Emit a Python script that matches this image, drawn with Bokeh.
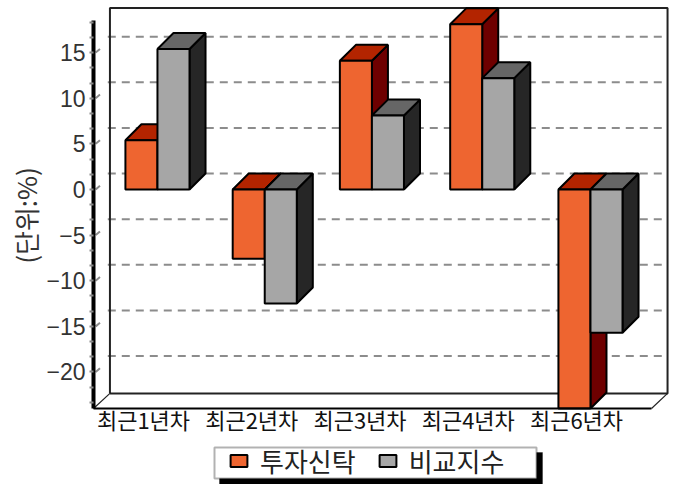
from bokeh.plotting import figure
from bokeh.embed import file_html
from bokeh.resources import INLINE
from bokeh.models import (Range1d, SingleIntervalTicker, FixedTicker, LinearAxis, Legend, LegendItem,
                          BoxAnnotation, Label)

categories = ["최근1년차", "최근2년차", "최근3년차", "최근4년차", "최근6년차"]
series_names = ["투자신탁", "비교지수"]
fund = [5.4, -7.6, 14.1, 18.1, -24.0]
index_vals = [15.4, -12.5, 8.1, 12.2, -15.7]
y_ticks = [-20, -15, -10, -5, 0, 5, 10, 15]
y_label = "(단위:%)"

FRONT = ["#EE6530", "#A6A6A6"]
TOP = ["#B32400", "#666666"]
SIDE = ["#6E0000", "#262626"]

# depth of the pseudo-3D projection, in data units
DX, DY = 0.148, 1.75
BAR_W = 0.296
SHIFT = [0.129, 0.120, 0.110, 0.129, 0.129]
X0, X1 = -0.462, 4.85
Y0, Y1 = -24.0, 19.95
WALL_L, WALL_R = X0 + 0.152, X1 - 0.009
FLOOR_R = WALL_R - DX
WALL_B = Y0 + 1.65

p = figure(width=675, height=484, output_backend="svg", toolbar_location=None,
           x_range=Range1d(-1.321, 4.9145), y_range=Range1d(-32.33, 20.71),
           x_axis_type=None, y_axis_type=None,
           min_border=0,
           background_fill_color="white", border_fill_color="white", outline_line_color=None)
p.grid.visible = False

# Axes
ya = LinearAxis(ticker=SingleIntervalTicker(interval=5, num_minor_ticks=3), bounds=(Y0, 18.5), fixed_location=X0)
ya.axis_line_color = "black"
ya.axis_line_width = 4
ya.major_tick_in = 0
ya.major_tick_out = 0
ya.minor_tick_in = 0
ya.minor_tick_out = 4
ya.minor_tick_line_color = "#8a8a8a"
ya.minor_tick_line_width = 2
ya.major_label_standoff = 4
ya.major_label_text_font = "Liberation Sans"
ya.major_label_text_font_size = "23px"
ya.major_label_text_color = "#333333"
p.add_layout(ya, "left")

xa = LinearAxis(ticker=FixedTicker(ticks=list(range(len(categories)))), bounds=(X0, FLOOR_R), fixed_location=Y0,
                major_label_overrides={i: c for i, c in enumerate(categories)})
xa.axis_line_color = "black"
xa.axis_line_width = 2
xa.major_tick_in = 0
xa.major_tick_out = 0
xa.minor_tick_in = 0
xa.minor_tick_out = 0
xa.major_label_standoff = -5
xa.major_label_text_font = "Noto Sans CJK KR"
xa.major_label_text_font_size = "22px"
xa.major_label_text_color = "#111111"
p.add_layout(xa, "below")

# Back wall gridlines
gy = [v + DY for v in y_ticks]
p.segment([WALL_L - 0.02] * len(gy), gy, [WALL_R] * len(gy), gy,
          line_color="#8c8c8c", line_width=2, line_dash="8 6")
# slanted major ticks
p.segment([X0 + 0.02] * len(y_ticks), y_ticks, [X0 + 0.06] * len(y_ticks), [v + 0.4 for v in y_ticks],
          line_color="#8c8c8c", line_width=2)

# Wall and floor outline
p.line([WALL_L, WALL_L, WALL_R, WALL_R, WALL_L], [WALL_B, Y1 - 0.05, Y1 - 0.05, WALL_B, WALL_B],
       line_color="#222222", line_width=2)
p.line([X0, WALL_L], [Y0, WALL_B], line_color="#222222", line_width=1.2)
p.line([FLOOR_R, WALL_R], [Y0, WALL_B], line_color="#222222", line_width=1.2)

# Bars
glyphs = [None, None]
for i in range(len(categories)):
    for s, vals in enumerate([fund, index_vals]):
        v = vals[i]
        c = i + SHIFT[i]
        l = c - BAR_W + s * BAR_W
        r = l + BAR_W
        hi, lo = max(v, 0), min(v, 0)
        p.patch([r, r, r + DX, r + DX], [lo, hi, hi + DY, lo + DY],
                fill_color=SIDE[s], line_color="black", line_width=2)
        p.patch([l, r, r + DX, l + DX], [hi, hi, hi + DY, hi + DY],
                fill_color=TOP[s], line_color="black", line_width=2)
        g = p.quad(left=[l], right=[r], top=[hi], bottom=[lo],
                   fill_color=FRONT[s], line_color="black", line_width=2)
        glyphs[s] = g

# Legend frame with shadow
p.add_layout(BoxAnnotation(left=219, right=542, top=32, bottom=0,
                           left_units="screen", right_units="screen", top_units="screen", bottom_units="screen",
                           fill_color="black", fill_alpha=1, line_color="black"))
p.add_layout(BoxAnnotation(left=214, right=536, top=37, bottom=6,
                           left_units="screen", right_units="screen", top_units="screen", bottom_units="screen",
                           fill_color="white", fill_alpha=1, line_color="black", line_width=2))
leg = Legend(items=[LegendItem(label=series_names[k], renderers=[glyphs[k]]) for k in range(2)],
             orientation="horizontal", location=(228, 5),
             background_fill_alpha=0, border_line_color=None, padding=0, margin=0, spacing=21,
             glyph_width=21, glyph_height=15, label_standoff=11, label_height=15,
             label_text_font="Noto Sans CJK KR", label_text_font_size="26px", label_text_color="#222222")
p.add_layout(leg)

p.add_layout(Label(x=25, y=484 - 215, x_units="screen", y_units="screen", text=y_label, angle=90, angle_units="deg",
                   text_align="center", text_baseline="middle",
                   text_font="Noto Sans CJK KR", text_font_size="26px", text_color="#333333"))

open("out.html", "w").write(file_html(p, INLINE))
